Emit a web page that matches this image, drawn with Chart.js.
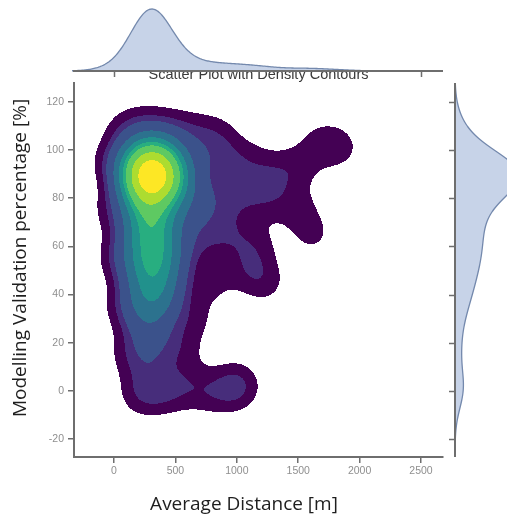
<!DOCTYPE html>
<html>
<head>
<meta charset="utf-8">
<script src="https://cdn.jsdelivr.net/npm/chart.js@4/dist/chart.umd.min.js"></script>
<style>
  html, body { margin: 0; padding: 0; background: #ffffff; }
  #wrap { width: 507px; height: 519px; position: relative; }
</style>
</head>
<body>
<div id="wrap"><canvas id="c" width="507" height="519"></canvas></div>
<script>
// Observations: average distance [m], modelling validation percentage [%], and number of sites per observation
const distances = [
  300, 240, 360, 300, 280, 340, 220, 420, 190, 470, 520,
  300, 250, 360, 300, 400, 230, 320, 260, 380, 300, 230, 340, 280, 480, 530, 180, 460,
  300, 200, 420, 600, 800, 1000,
  80, 250, 450, 650, 850,
  700, 900, 1100, 1300, 1500, 1680, 1850,
  650, 800, 850, 1050, 1250,
  700, 950, 1150, 1620, 1500, 1240, 1100, 800, 650, 550,
  -30, -20, 20, 80, 130
];
const validation = [
  88, 91, 87, 96, 80, 94, 84, 90, 96, 97, 86,
  72, 67, 66, 58, 55, 53, 47, 40, 38, 32, 27, 22, 15, 60, 75, 62, 45,
  3, -2, -1, 2, -1, 2,
  108, 110, 109, 107, 106,
  95, 96, 95, 90, 93, 103, 101,
  80, 72, 82, 80, 80,
  62, 64, 60, 65, 76, 45, 50, 45, 30, 17,
  95, 75, 55, 35, 15
];
const counts = [
  7, 9, 9, 6, 6, 5, 4, 4, 2, 2, 2,
  5, 3, 3, 4, 3, 3, 4, 3, 2, 2, 1, 1, 1, 1, 2, 1, 1,
  1, 1, 1, 1, 1, 2,
  1, 1, 1, 1, 1,
  1, 1, 1, 1, 1, 1, 1,
  1, 1, 1, 1, 1,
  1, 1, 1, 1, 1, 1, 1, 1, 1, 1,
  1, 1, 1, 1, 1
];

const xTicks = [0, 500, 1000, 1500, 2000, 2500];
const yTicks = [-20, 0, 20, 40, 60, 80, 100, 120];
const xRange = [-326, 2679];
const yRange = [-27.4, 127.8];

// Kernel bandwidths (data units)
const bandwidth2d = { x: 135, y: 7.2 };
const bandwidthMargin = { x: 150, y: 8 };
// Iso-proportion levels: 10 levels from a 5% threshold up to the peak
const isoProps = [0.05, 0.1556, 0.2611, 0.3667, 0.4722, 0.5778, 0.6833, 0.7889, 0.8944, 1.0];

const viridisBands = ['#440154', '#472d7b', '#3b528b', '#2c728e', '#21918c', '#28ae80', '#5ec962', '#addc30', '#fde725'];
const marginFill = 'rgba(196, 209, 231, 0.95)';
const marginLine = '#7489ad';
const axisGray = '#6e6e6e';
const titleFont = '19px "Open Sans", sans-serif';

function hexToRgb(h) {
  return [parseInt(h.slice(1, 3), 16), parseInt(h.slice(3, 5), 16), parseInt(h.slice(5, 7), 16)];
}

// Filled KDE contours, evaluated per pixel through the chart scales
const densityContours = {
  id: 'densityContours',
  beforeDatasetsDraw(chart) {
    const { ctx, chartArea: a, scales: { x, y } } = chart;
    const W = Math.round(a.right - a.left), H = Math.round(a.bottom - a.top);
    const n = distances.length;
    const ex = new Float64Array(W * n), ey = new Float64Array(H * n);
    for (let i = 0; i < W; i++) {
      const d = x.getValueForPixel(a.left + i + 0.5);
      for (let k = 0; k < n; k++) {
        const u = (d - distances[k]) / bandwidth2d.x;
        ex[i * n + k] = counts[k] * Math.exp(-0.5 * u * u);
      }
    }
    for (let j = 0; j < H; j++) {
      const v = y.getValueForPixel(a.top + j + 0.5);
      for (let k = 0; k < n; k++) {
        const u = (v - validation[k]) / bandwidth2d.y;
        ey[j * n + k] = Math.exp(-0.5 * u * u);
      }
    }
    const dens = new Float64Array(W * H);
    let total = 0;
    for (let j = 0; j < H; j++) {
      for (let i = 0; i < W; i++) {
        let s = 0;
        const oi = i * n, oj = j * n;
        for (let k = 0; k < n; k++) s += ex[oi + k] * ey[oj + k];
        dens[j * W + i] = s;
        total += s;
      }
    }
    const sorted = Float64Array.from(dens).sort().reverse();
    const cum = new Float64Array(sorted.length);
    let acc = 0;
    for (let i = 0; i < sorted.length; i++) { acc += sorted[i]; cum[i] = acc / total; }
    const levels = isoProps.map(q => {
      const target = 1 - q;
      let lo = 0, hi = cum.length - 1;
      while (lo < hi) { const m = (lo + hi) >> 1; if (cum[m] < target) lo = m + 1; else hi = m; }
      return sorted[lo];
    });
    const rgb = viridisBands.map(hexToRgb);
    const off = document.createElement('canvas');
    off.width = W; off.height = H;
    const octx = off.getContext('2d');
    const img = octx.createImageData(W, H);
    for (let p = 0; p < W * H; p++) {
      const v = dens[p];
      if (v < levels[0]) continue;
      let b = 0;
      while (b + 1 < levels.length - 1 && v >= levels[b + 1]) b++;
      const c = rgb[b];
      img.data[p * 4] = c[0]; img.data[p * 4 + 1] = c[1]; img.data[p * 4 + 2] = c[2]; img.data[p * 4 + 3] = 255;
    }
    octx.putImageData(img, 0, 0);
    ctx.save();
    ctx.filter = 'blur(0.6px)';
    ctx.drawImage(off, a.left, a.top);
    ctx.restore();
  }
};

function kde1d(values, h, t) {
  let s = 0;
  values.forEach((v, k) => { const u = (t - v) / h; s += counts[k] * Math.exp(-0.5 * u * u); });
  return s;
}

// Marginal density panels (top: distance, right: validation), the clipped title and the axis titles
const marginals = {
  id: 'marginals',
  afterDraw(chart) {
    const { ctx, chartArea: a, scales: { x, y } } = chart;
    ctx.save();
    ctx.font = '14.5px "Liberation Sans", Arial, sans-serif';
    ctx.fillStyle = '#3a3a3a';
    ctx.textAlign = 'center';
    ctx.textBaseline = 'alphabetic';
    ctx.fillText('Scatter Plot with Density Contours', (a.left + a.right) / 2, 79);
    ctx.fillStyle = '#ffffff';
    ctx.fillRect(0, 0, chart.width, 72);

    // axis titles
    ctx.font = titleFont;
    ctx.fillStyle = '#1e1e1e';
    ctx.textBaseline = 'middle';
    ctx.fillText('Average Distance [m]', 244, 505);
    ctx.save();
    ctx.translate(21, 258);
    ctx.rotate(-Math.PI / 2);
    ctx.fillText('Modelling Validation percentage [%]', 0, 0);
    ctx.restore();

    // top panel
    const baseTop = 71;
    const colsX = [], colsD = [];
    let maxD = 0;
    for (let px = a.left - 2; px <= a.right; px++) {
      const d = kde1d(distances, bandwidthMargin.x, x.getValueForPixel(px));
      colsX.push(px); colsD.push(d); if (d > maxD) maxD = d;
    }
    const topH = 62;
    ctx.beginPath();
    ctx.moveTo(colsX[0], baseTop);
    colsX.forEach((px, i) => ctx.lineTo(px, baseTop - colsD[i] / maxD * topH));
    ctx.lineTo(colsX[colsX.length - 1], baseTop);
    ctx.closePath();
    ctx.fillStyle = marginFill;
    ctx.fill();
    ctx.beginPath();
    colsX.forEach((px, i) => { const yy = baseTop - colsD[i] / maxD * topH; if (i) ctx.lineTo(px, yy); else ctx.moveTo(px, yy); });
    ctx.strokeStyle = marginLine; ctx.lineWidth = 1.3; ctx.stroke();
    ctx.beginPath();
    ctx.moveTo(a.left - 1, baseTop); ctx.lineTo(a.right, baseTop);
    ctx.strokeStyle = axisGray; ctx.lineWidth = 2; ctx.stroke();
    ctx.lineWidth = 1.5;
    [xTicks[0], xTicks[xTicks.length - 1]].forEach(t => {
      const px = Math.round(x.getPixelForValue(t)) + 0.5;
      ctx.beginPath(); ctx.moveTo(px, baseTop); ctx.lineTo(px, baseTop + 6); ctx.stroke();
    });

    // right panel
    const baseRight = 455;
    const rowsY = [], rowsD = [];
    let maxV = 0;
    for (let py = a.top; py <= a.bottom; py++) {
      const d = kde1d(validation, bandwidthMargin.y, y.getValueForPixel(py));
      rowsY.push(py); rowsD.push(d); if (d > maxV) maxV = d;
    }
    const rightW = 64;
    ctx.beginPath();
    ctx.moveTo(baseRight, rowsY[0]);
    rowsY.forEach((py, i) => ctx.lineTo(baseRight + rowsD[i] / maxV * rightW, py));
    ctx.lineTo(baseRight, rowsY[rowsY.length - 1]);
    ctx.closePath();
    ctx.fillStyle = marginFill; ctx.fill();
    ctx.beginPath();
    rowsY.forEach((py, i) => { const xx = baseRight + rowsD[i] / maxV * rightW; if (i) ctx.lineTo(xx, py); else ctx.moveTo(xx, py); });
    ctx.strokeStyle = marginLine; ctx.lineWidth = 1.3; ctx.stroke();
    ctx.beginPath();
    ctx.moveTo(baseRight, a.top); ctx.lineTo(baseRight, a.bottom);
    ctx.strokeStyle = axisGray; ctx.lineWidth = 2; ctx.stroke();
    ctx.lineWidth = 1.5;
    yTicks.forEach(t => {
      const py = Math.round(y.getPixelForValue(t)) + 0.5;
      ctx.beginPath(); ctx.moveTo(baseRight - 6, py); ctx.lineTo(baseRight, py); ctx.stroke();
    });
    ctx.restore();
  }
};

const points = distances.map((d, i) => ({ x: d, y: validation[i] }));

new Chart(document.getElementById('c'), {
  type: 'scatter',
  data: { datasets: [{ data: points, pointRadius: 0, pointHoverRadius: 0, showLine: false }] },
  options: {
    responsive: false,
    animation: false,
    events: [],
    layout: { padding: { left: 0, right: 64, top: 83, bottom: 0 } },
    plugins: { legend: { display: false }, tooltip: { enabled: false }, title: { display: false } },
    scales: {
      x: {
        type: 'linear', min: xRange[0], max: xRange[1],
        afterBuildTicks: s => { s.ticks = xTicks.map(v => ({ value: v })); },
        afterFit: s => { s.height = 62; },
        grid: { display: true, drawOnChartArea: false, drawTicks: true, tickLength: 6, color: axisGray, lineWidth: 1.5 },
        border: { display: true, color: axisGray, width: 2 },
        ticks: { color: '#8f8f8f', font: { family: 'Liberation Sans', size: 10.5 }, padding: 2, maxRotation: 0, autoSkip: false, callback: v => String(v) }
      },
      y: {
        type: 'linear', min: yRange[0], max: yRange[1],
        afterBuildTicks: s => { s.ticks = yTicks.map(v => ({ value: v })); },
        afterFit: s => { s.width = 74; },
        grid: { display: true, drawOnChartArea: false, drawTicks: true, tickLength: 6, color: axisGray, lineWidth: 1.5 },
        border: { display: true, color: axisGray, width: 2 },
        ticks: { color: '#8f8f8f', font: { family: 'Liberation Sans', size: 10.5 }, padding: 4, autoSkip: false, callback: v => String(v) }
      }
    }
  },
  plugins: [densityContours, marginals]
});
</script>
</body>
</html>
